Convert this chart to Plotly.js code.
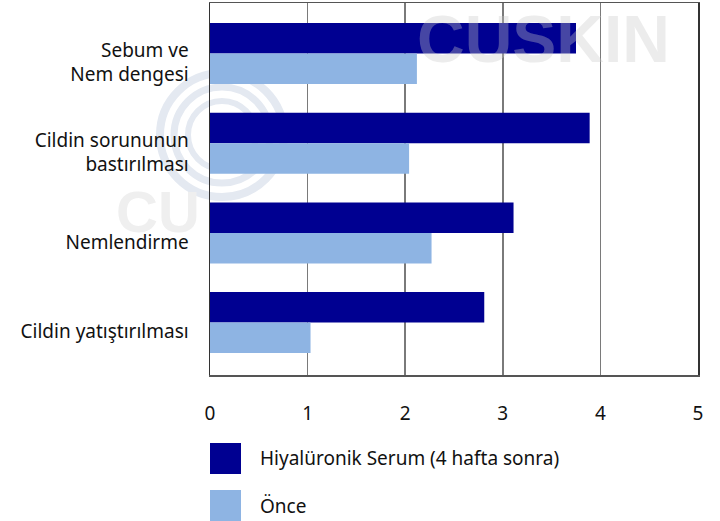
<!DOCTYPE html>
<html>
<head>
<meta charset="utf-8">
<script src="https://cdn.plot.ly/plotly-3.0.1.min.js"></script>
<style>html,body{margin:0;padding:0;background:#fff;}#chart{width:720px;height:521px;}</style>
</head>
<body>
<div id="chart"></div>
<script>
const categories = ["Sebum ve<br>Nem dengesi", "Cildin sorununun<br>bastırılması", "Nemlendirme", "Cildin yatıştırılması"];
const seriesNames = ["Hiyalüronik Serum (4 hafta sonra)", "Önce"];
const afterValues = [3.75, 3.89, 3.11, 2.81];
const beforeValues = [2.12, 2.04, 2.27, 1.03];
const xTicks = [0, 1, 2, 3, 4, 5];
const colors = ["#000091", "#8EB4E3"];

const W = 720, H = 521;
const M = {l: 210, r: 22, t: 3, b: 146};
const pw = W - M.l - M.r, ph = H - M.t - M.b;
const px = x => (x - M.l) / pw;
const py = y => 1 - (y - M.t) / ph;
const font = "'Noto Sans', 'Noto Sans CJK JP', sans-serif";

const traces = [
  {type: 'bar', orientation: 'h', name: seriesNames[0], y: categories, x: afterValues,
   marker: {color: colors[0]}, hoverinfo: 'skip'},
  {type: 'bar', orientation: 'h', name: seriesNames[1], y: categories, x: beforeValues,
   marker: {color: colors[1]}, hoverinfo: 'skip'}
];

const shapes = [];
const annotations = [];
// watermark rings (behind plot)
[[62,8],[48,7],[34,6]].forEach(([r,w]) => {
  shapes.push({type:'circle', xref:'paper', yref:'paper', layer:'below',
    x0: px(222 - r), x1: px(222 + r), y0: py(135 + r), y1: py(135 - r),
    line: {color: '#e4e9f1', width: w}});
});
annotations.push({xref:'paper', yref:'paper', x: px(202), y: py(212), xanchor:'right', yanchor:'middle',
  text:'CU', showarrow:false, font:{family:"'Liberation Sans', Arial, sans-serif", size:58, color:'#efefef', weight:700}});
annotations.push({xref:'paper', yref:'paper', x: px(543), y: py(0), xanchor:'center', yanchor:'top',
  text:'CUSKIN', showarrow:false, font:{family:"'Liberation Sans', Arial, sans-serif", size:66, color:'rgba(200,200,200,0.35)', weight:700}});

// custom legend
seriesNames.forEach((name, i) => {
  const top = 443 + i * 47;
  shapes.push({type:'rect', xref:'paper', yref:'paper', x0: px(210), x1: px(241), y0: py(top + 31), y1: py(top),
    fillcolor: colors[i], line: {width: 0}});
  annotations.push({xref:'paper', yref:'paper', x: px(258), y: py(top + 15.5), xanchor:'left', yanchor:'middle',
    text: name, showarrow:false, font:{family: font, size:19, color:'#111'}});
});

const layout = {
  width: W, height: H,
  margin: M,
  paper_bgcolor: 'rgba(0,0,0,0)',
  plot_bgcolor: '#fff',
  showlegend: false,
  barmode: 'group',
  bargap: 0.32,
  bargroupgap: 0,
  font: {family: font, color: '#111'},
  xaxis: {
    range: [0, 5], tickvals: xTicks, ticktext: xTicks.map(String),
    showgrid: true, gridcolor: '#7a7a7a', gridwidth: 1.5,
    showline: true, linecolor: '#555', linewidth: 1.5, mirror: true,
    zeroline: false, ticks: '', ticklabelstandoff: 21,
    tickfont: {size: 19, color: '#111'}, fixedrange: true
  },
  yaxis: {
    type: 'category', range: [3.584, -0.563],
    showgrid: false, showline: true, linecolor: '#333', linewidth: 1.5, mirror: true,
    ticks: '', ticklabelstandoff: 16, ticklabelshift: -9,
    tickfont: {size: 19, color: '#111'}, fixedrange: true
  },
  shapes: shapes,
  annotations: annotations
};

Plotly.newPlot('chart', traces, layout, {displayModeBar: false, staticPlot: true});
</script>
</body>
</html>
